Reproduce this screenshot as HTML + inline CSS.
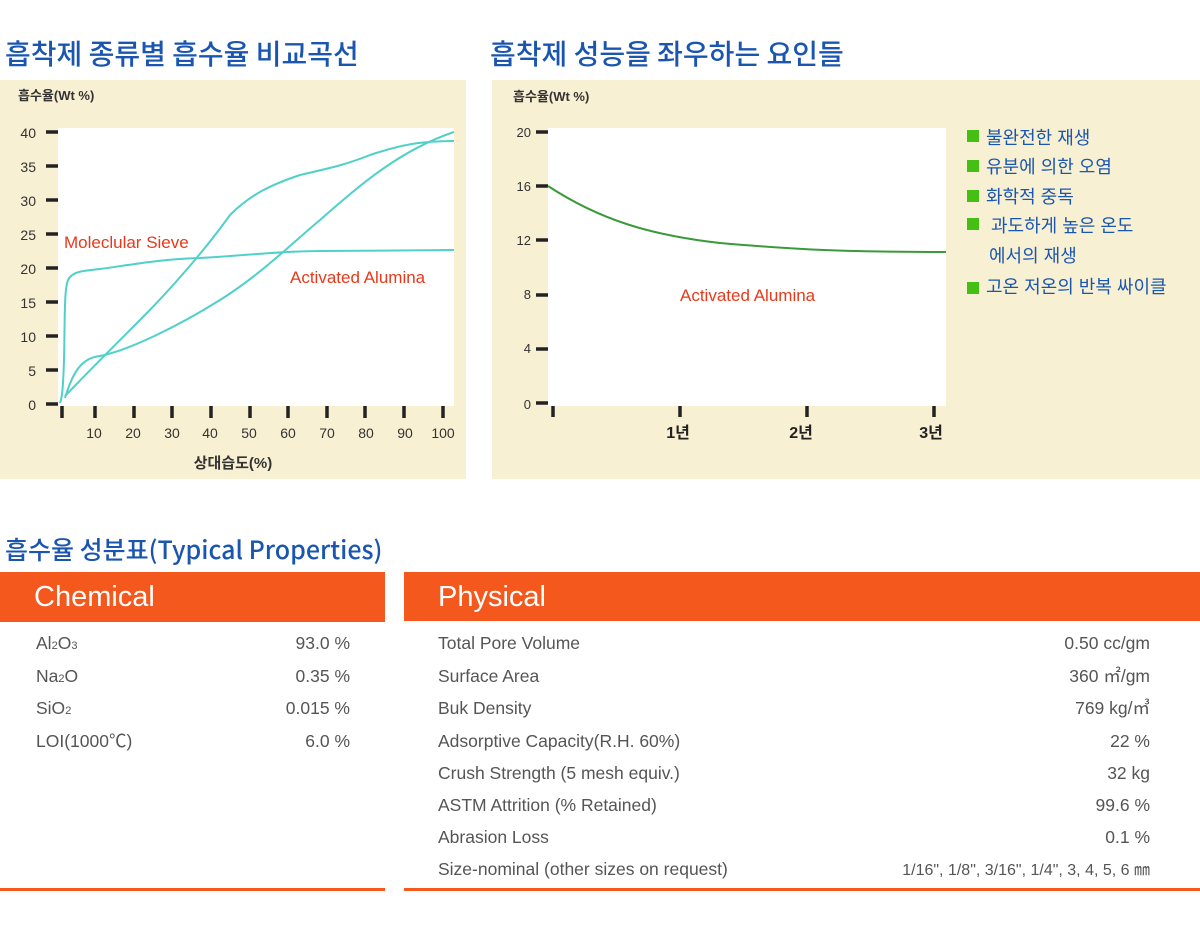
<!DOCTYPE html>
<html><head><meta charset="utf-8"><style>
body{margin:0;width:1200px;height:926px;background:#fff;position:relative;overflow:hidden;font-family:"Liberation Sans","Noto Sans CJK KR",sans-serif}
.t{position:absolute;color:#1a56b0;font-size:28px;font-weight:500;white-space:nowrap;font-family:"Noto Sans CJK KR",sans-serif;line-height:36px}
.hd{position:absolute;background:#f4581c;color:#fff;font-size:29px;font-family:"Liberation Sans","Noto Sans CJK KR",sans-serif;box-sizing:border-box;padding-left:34px;line-height:50px}
.row{position:absolute;font-size:17.5px;color:#555;white-space:nowrap;line-height:20px;height:20px}
.row small{font-size:11px;vertical-align:baseline;line-height:0}
.r{text-align:right}
.line{position:absolute;height:3px;background:#f4581c}
</style></head><body>
<div class="t" style="left:5px;top:35px">흡착제 종류별 흡수율 비교곡선</div>
<div class="t" style="left:490px;top:35px">흡착제 성능을 좌우하는 요인들</div>
<svg style="position:absolute;left:0;top:0" width="1200" height="480" font-family="Liberation Sans, Noto Sans CJK KR, sans-serif">
<rect x="0" y="80" width="466" height="399" fill="#f8f0d3"/>
<rect x="58" y="128" width="396" height="278" fill="#fff"/>
<text x="18" y="100" font-size="13" font-weight="bold" fill="#333">흡수율(Wt %)</text>
<g font-size="14" fill="#333" text-anchor="end">
<text x="36" y="138">40</text><text x="36" y="172">35</text><text x="36" y="206">30</text><text x="36" y="240">25</text><text x="36" y="274">20</text><text x="36" y="308">15</text><text x="36" y="342">10</text><text x="36" y="376">5</text><text x="36" y="410">0</text>
</g>
<g stroke="#222" stroke-width="3.5">
<path d="M46 132H58M46 166H58M46 200H58M46 234H58M46 268H58M46 302H58M46 336H58M46 370H58M46 404H58"/>
<path d="M62 406V418M95 406V418M134 406V418M172 406V418M211 406V418M250 406V418M288 406V418M327 406V418M365 406V418M404 406V418M443 406V418"/>
</g>
<g font-size="14" fill="#333" text-anchor="middle">
<text x="94" y="438">10</text><text x="133" y="438">20</text><text x="172" y="438">30</text><text x="210" y="438">40</text><text x="249" y="438">50</text><text x="288" y="438">60</text><text x="327" y="438">70</text><text x="366" y="438">80</text><text x="405" y="438">90</text><text x="443" y="438">100</text>
<text x="233" y="468" font-size="15" font-weight="bold">상대습도(%)</text>
</g>
<g fill="none" stroke="#4fd0c8" stroke-width="2">
<path d="M60 403 C62 398 63 390 64 360 C65 320 64 290 68 280 C72 272 80 271 100 269 C130 265 160 259 200 258 C240 256 280 251 320 251 C360 251 420 250 454 250"/>
<path d="M65 396 C90 370 110 350 140 320 C170 290 205 250 230 215 C250 195 270 185 300 175 C330 168 345 165 370 155 C400 145 420 141 454 141"/>
<path d="M65 398 C72 375 80 358 100 356 C130 350 180 325 220 300 C260 275 290 245 320 220 C360 185 400 150 454 132"/>
</g>
<text x="64" y="248" font-size="17" fill="#e8391a">Moleclular Sieve</text>
<text x="290" y="283" font-size="17" fill="#e8391a">Activated Alumina</text>

<rect x="492" y="80" width="708" height="399" fill="#f8f0d3"/>
<rect x="548" y="128" width="398" height="278" fill="#fff"/>
<text x="513" y="101" font-size="13" font-weight="bold" fill="#333">흡수율(Wt %)</text>
<g font-size="13" fill="#333" text-anchor="end">
<text x="531" y="137">20</text><text x="531" y="191">16</text><text x="531" y="245">12</text><text x="531" y="299">8</text><text x="531" y="353">4</text><text x="531" y="409">0</text>
</g>
<g stroke="#222" stroke-width="3.5">
<path d="M536 132H548M536 186H548M536 240H548M536 295H548M536 349H548M536 403H548"/>
<path d="M553 406V417M680 406V417M807 406V417M934 406V417"/>
</g>
<g font-size="16" fill="#222" text-anchor="middle" font-weight="bold">
<text x="678" y="438">1년</text><text x="801" y="438">2년</text><text x="931" y="438">3년</text>
</g>
<path d="M548 186 C600 220 650 235 720 243 C800 250 850 252 946 252" fill="none" stroke="#3a9a3a" stroke-width="2"/>
<text x="680" y="301" font-size="17" fill="#e8391a">Activated Alumina</text>
<g fill="#44c014"><rect x="967" y="130" width="12" height="12"/><rect x="967" y="160" width="12" height="12"/><rect x="967" y="190" width="12" height="12"/><rect x="967" y="218" width="12" height="12"/><rect x="967" y="282" width="12" height="12"/></g>
<g font-size="18" fill="#1a56b0">
<text x="986" y="144">불완전한 재생</text><text x="986" y="173">유분에 의한 오염</text><text x="986" y="203">화학적 중독</text><text x="991" y="232">과도하게 높은 온도</text><text x="989" y="262">에서의 재생</text><text x="986" y="293">고온 저온의 반복 싸이클</text>
</g>
</svg>
<div class="t" style="left:5px;top:531px;font-size:25px">흡수율 성분표(Typical Properties)</div>
<div class="hd" style="left:0;top:572px;width:385px;height:50px">Chemical</div>
<div class="hd" style="left:404px;top:572px;width:796px;height:49px">Physical</div>
<div class="line" style="left:0;top:888px;width:385px"></div>
<div class="line" style="left:404px;top:888px;width:796px"></div>
<div class="row" style="left:36px;top:633px">Al<small>2</small>O<small>3</small></div><div class="row r" style="right:850px;top:633px">93.0 %</div>
<div class="row" style="left:36px;top:666px">Na<small>2</small>O</div><div class="row r" style="right:850px;top:666px">0.35 %</div>
<div class="row" style="left:36px;top:698px">SiO<small>2</small></div><div class="row r" style="right:850px;top:698px">0.015 %</div>
<div class="row" style="left:36px;top:731px">LOI(1000℃)</div><div class="row r" style="right:850px;top:731px">6.0 %</div>
<div class="row" style="left:438px;top:633px">Total Pore Volume</div><div class="row r" style="right:50px;top:633px">0.50 cc/gm</div>
<div class="row" style="left:438px;top:666px">Surface Area</div><div class="row r" style="right:50px;top:666px">360 ㎡/gm</div>
<div class="row" style="left:438px;top:698px">Buk Density</div><div class="row r" style="right:50px;top:698px">769 kg/㎥</div>
<div class="row" style="left:438px;top:731px">Adsorptive Capacity(R.H. 60%)</div><div class="row r" style="right:50px;top:731px">22 %</div>
<div class="row" style="left:438px;top:763px">Crush Strength (5 mesh equiv.)</div><div class="row r" style="right:50px;top:763px">32 kg</div>
<div class="row" style="left:438px;top:795px">ASTM Attrition (% Retained)</div><div class="row r" style="right:50px;top:795px">99.6 %</div>
<div class="row" style="left:438px;top:827px">Abrasion Loss</div><div class="row r" style="right:50px;top:827px">0.1 %</div>
<div class="row" style="left:438px;top:859px">Size-nominal (other sizes on request)</div><div class="row r" style="right:50px;top:861px;font-size:16px">1/16", 1/8", 3/16", 1/4", 3, 4, 5, 6 ㎜</div>
</body></html>
